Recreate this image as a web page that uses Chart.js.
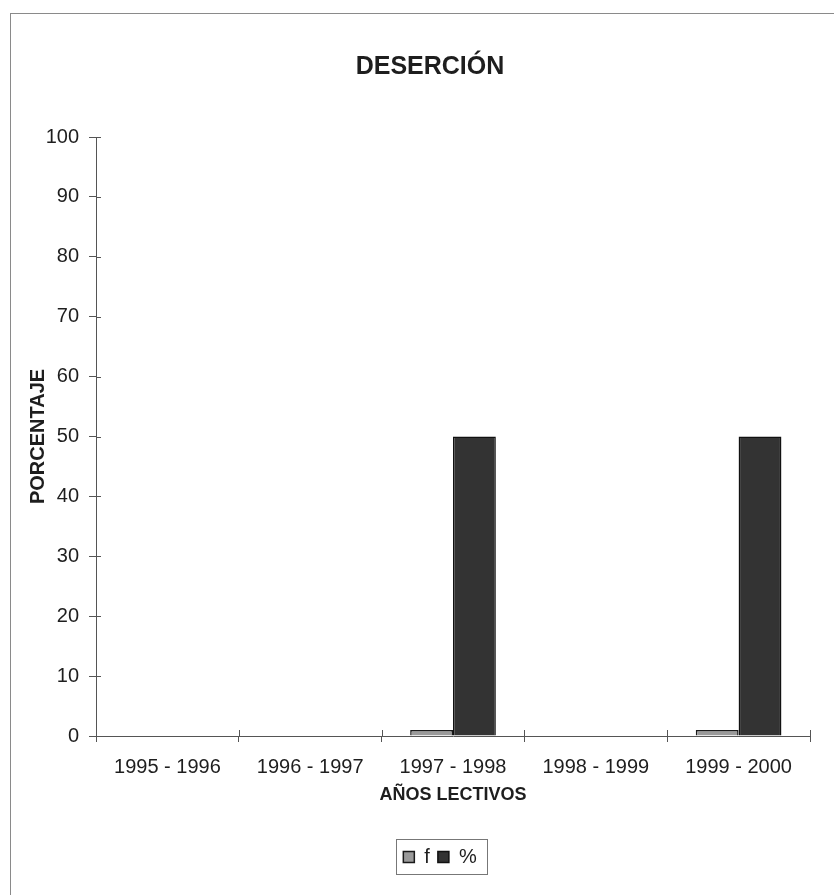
<!DOCTYPE html>
<html>
<head>
<meta charset="utf-8">
<script src="https://cdn.jsdelivr.net/npm/chart.js@4.4.0/dist/chart.umd.min.js"></script>
<style>
  html, body { margin: 0; padding: 0; background: #fff; overflow: hidden; }
  #frame { position: absolute; left: 10px; top: 13px; width: 840px; height: 900px;
           border-top: 1.5px solid #8a8a8a; border-left: 1.5px solid #8a8a8a; }
  #wrap { position: absolute; left: 0; top: 0; width: 834px; height: 895px; }
</style>
</head>
<body>
<div id="frame"></div>
<div id="wrap"><canvas id="myChart" width="834" height="895"></canvas></div>
<script>
// years on the x axis
const labels = ['1995 - 1996', '1996 - 1997', '1997 - 1998', '1998 - 1999', '1999 - 2000'];
// series
const fValues = [0, 0, 1, 0, 1];
const pctValues = [0, 0, 50, 0, 50];
// y axis range
const yMin = 0;
const yMax = 100;
const yStep = 10;

const axisColor = '#555';
const textColor = '#1e1e1e';
const font = 'Liberation Sans, Arial, sans-serif';

// ticks cross the axis line in the original, chart.js only draws the outer half
const crossTicks = {
  id: 'crossTicks',
  afterDraw(chart) {
    const ctx = chart.ctx;
    const x = chart.scales.x, y = chart.scales.y;
    ctx.save();
    ctx.strokeStyle = axisColor;
    ctx.lineWidth = 1;
    ctx.beginPath();
    y.ticks.forEach((t, i) => {
      const py = Math.round(y.getPixelForTick(i)) + 0.5;
      ctx.moveTo(x.left, py);
      ctx.lineTo(x.left + 5, py);
    });
    for (let i = 0; i <= labels.length; i++) {
      const px = Math.round(x.getPixelForValue(i - 0.5)) + 0.5;
      ctx.moveTo(px, y.bottom);
      ctx.lineTo(px, y.bottom - 6);
    }
    ctx.stroke();
    ctx.restore();
  }
};

// legend sits a little right of the title in the original
const legendShift = {
  id: 'legendShift',
  afterLayout(chart) {
    const lg = chart.legend;
    lg.left += 10;
    lg.right += 10;
    (lg.legendHitBoxes || []).forEach(hb => { hb.left += 10; });
  }
};

// thin frame round the legend
const legendBox = {
  id: 'legendBox',
  afterDraw(chart) {
    const boxes = chart.legend.legendHitBoxes;
    if (!boxes || !boxes.length) return;
    const first = boxes[0], last = boxes[boxes.length - 1];
    const ctx = chart.ctx;
    ctx.save();
    ctx.strokeStyle = '#777';
    ctx.lineWidth = 1;
    const l = Math.round(first.left - 7) + 0.5;
    const r = Math.round(last.left + last.width + 10) + 0.5;
    const t = Math.round(first.top - 8) + 0.5;
    const b = Math.round(first.top + first.height + 7) + 0.5;
    ctx.strokeRect(l, t, r - l, b - t);
    ctx.restore();
  }
};

var canvas = document.getElementById('myChart');

var myChart = new Chart(canvas, {
  type: 'bar',
  data: {
    labels: labels,
    datasets: [{
      label: 'f',
      data: fValues,
      backgroundColor: '#9a9a9a',
      borderColor: '#1a1a1a',
      borderWidth: 1.5,
      categoryPercentage: 0.6,
      barPercentage: 1.0
    }, {
      label: '%',
      data: pctValues,
      backgroundColor: '#333333',
      borderColor: '#111111',
      borderWidth: 1.5,
      categoryPercentage: 0.6,
      barPercentage: 1.0
    }]
  },
  options: {
    responsive: false,
    animation: false,
    layout: { padding: { left: 26, right: 0, top: 0, bottom: 18 } },
    plugins: {
      title: {
        display: true,
        text: 'DESERCIÓN',
        color: textColor,
        font: { family: font, size: 25, weight: 'bold' },
        padding: { top: 52, bottom: 55 }
      },
      legend: {
        position: 'bottom',
        labels: {
          color: textColor,
          font: { family: font, size: 20 },
          boxWidth: 11,
          boxHeight: 11,
          padding: 8
        }
      },
      tooltip: { enabled: false }
    },
    scales: {
      x: {
        grid: { display: true, drawOnChartArea: false, drawTicks: true, tickLength: 6, color: axisColor, offset: true },
        border: { display: true, color: axisColor, width: 1 },
        ticks: { color: textColor, font: { family: font, size: 20 }, padding: 13, maxRotation: 0 },
        title: {
          display: true,
          text: 'AÑOS LECTIVOS',
          color: textColor,
          font: { family: font, size: 18, weight: 'bold' },
          padding: { top: 0, bottom: 33 }
        },
        afterFit(s) { s.height = 103; }
      },
      y: {
        min: yMin,
        max: yMax,
        grid: { display: true, drawOnChartArea: false, drawTicks: true, tickLength: 7, color: axisColor },
        border: { display: true, color: axisColor, width: 1 },
        ticks: { stepSize: yStep, color: textColor, font: { family: font, size: 20 }, padding: 10 },
        title: {
          display: true,
          text: 'PORCENTAJE',
          color: textColor,
          font: { family: font, size: 20, weight: 'bold' },
          padding: { top: 0, bottom: 0 }
        },
        afterFit(s) { s.width = 70; }
      },
      pad: {
        type: 'linear',
        position: 'right',
        display: true,
        grid: { display: false },
        border: { display: false },
        ticks: { display: false },
        afterFit(s) { s.width = 24; }
      }
    }
  },
  plugins: [legendShift, crossTicks, legendBox]
});
</script>
</body>
</html>
